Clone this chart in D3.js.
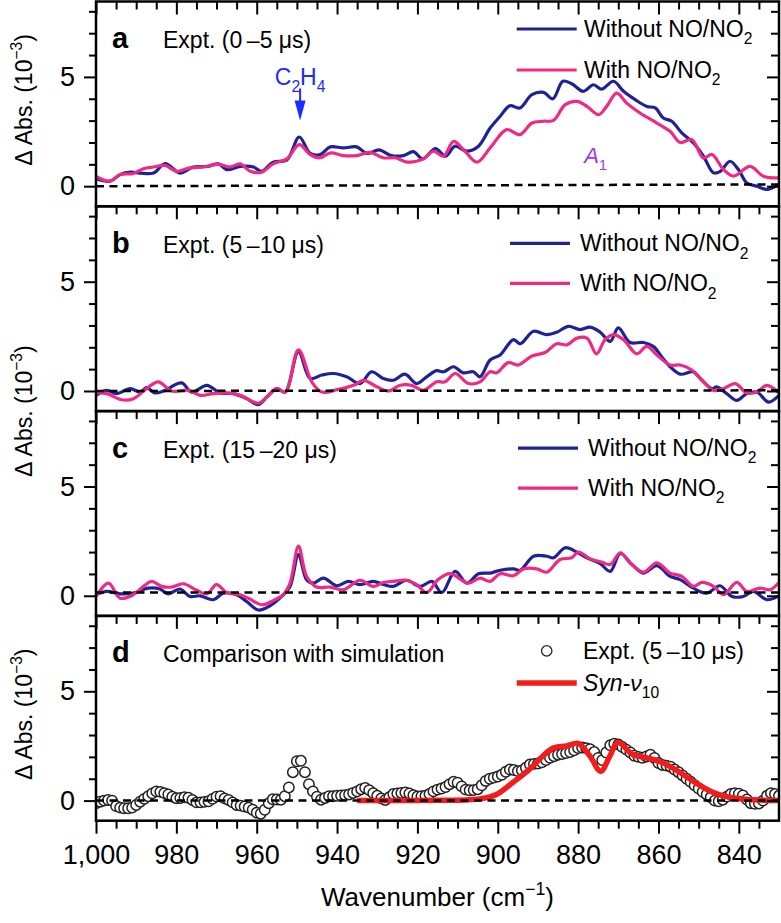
<!DOCTYPE html>
<html><head><meta charset="utf-8">
<script src="https://cdn.jsdelivr.net/npm/d3@7"></script>
<style>
body{margin:0;background:#fff}
svg{display:block}
text{font-family:"Liberation Sans",Arial,Helvetica,sans-serif;fill:#000}
</style>
</head><body>
<svg id="chart" width="781" height="923"></svg>
<script>
// ---------------- DATA ----------------
const panelLetters = ["a","b","c","d"];
const panelTitles = ["Expt. (0\u2009\u20135 \u03bcs)","Expt. (5\u2009\u201310 \u03bcs)","Expt. (15\u2009\u201320 \u03bcs)","Comparison with simulation"];
const xMajorTicks = [1000,980,960,940,920,900,880,860,840];
const xMinorTicks = [995,990,985,975,970,965,955,950,945,935,930,925,915,910,905,895,890,885,875,870,865,855,850,845,835];
const yMajorTicks = [0,5];
const yMinorTicks = [1,2,3,4,6,7,8];
const baselineStart = [0,0,0.15,0];
const baselineEnd = [0.08,0.03,0.15,0];

// Panel a
const aWithoutWn = [1000,996.5,994,991.5,989,985.7,982.8,979.1,975.8,972.4,969.5,967.5,964.1,960.8,958.8,955.9,952.5,949.4,946.7,944.2,941.7,938.4,935.1,932.6,929.5,926.5,923.5,921,918.7,915.5,913,910.6,907.7,904.8,901.9,899.4,897,894.5,891.5,888.6,886.3,883.8,881.6,878.7,876.2,874.1,871.2,868.7,865.8,862.9,860.8,858.8,856.7,854.2,851.3,848.8,846.3,844.6,842.2,840.1,838,835.5,833,830];
const aWithoutVal = [0.35,0.23,0.53,0.64,0.6,0.6,1.03,0.6,0.88,0.9,1.02,0.76,0.9,0.88,0.68,1.1,1.2,2.25,1.5,1.45,1.8,1.75,1.8,1.5,1.66,1.4,1.4,1.58,1.25,1.72,1.37,1.83,1.6,1.83,2.66,3.2,3.68,3.58,4.19,4.29,4.0,4.8,4.69,4.34,4.64,4.44,4.8,4.34,3.96,3.65,3.58,3.12,2.97,2.44,1.98,1.37,0.61,0.68,1.14,0.76,0.15,0,-0.15,0.08];
const aWithWn = [1000,996.5,994,990.7,988.2,985.7,982.8,979.9,976.6,973.3,969.5,966.6,964.1,961.6,958.8,955.9,952.5,949.4,946.7,944.2,941.7,938.4,935.1,931.8,928.5,925.5,922.5,918.5,916,913.5,911,908.5,905.2,901.9,897.8,894.5,891.5,888.6,886.1,883.2,880.3,877.8,874.9,872.9,870.4,867.9,864.6,860.4,857.1,854.6,851.7,848.8,846.7,843.8,841.3,837.2,833.9,830];
const aWithVal = [0.45,0.23,0.53,0.58,0.8,0.88,0.95,0.68,0.84,0.88,1.0,0.88,1.02,0.68,0.64,1.02,1.25,1.9,1.45,1.3,1.52,1.4,1.4,1.55,1.3,1.3,1.1,1.25,1.6,1.37,2.05,1.67,1.1,1.75,2.59,2.36,2.89,2.97,3.01,3.73,3.88,3.65,3.27,3.65,4.26,3.8,3.35,2.89,2.51,2.0,2.13,1.29,1.45,0.76,0.46,0.91,0.46,0.38];

// Panel b
const bWithoutWn = [1000,997.3,994.9,991.5,989,987.4,985.3,983.2,978.7,976.2,972.4,969.1,965.8,962.5,959.6,957.5,955,952.9,949.6,946.7,943.8,940.9,937.6,934.3,931.4,928.5,926,923.1,920.2,917.7,915.2,913.5,911,908.6,906.1,904.4,901.9,899.4,896.1,894.4,891.1,887.8,885.3,882.4,879.5,877,874.5,872,870,867.1,863.7,861.3,859.2,857.1,854.6,851.3,849.6,846.7,845.5,843,840.5,838,835.5,832.6,830];
const bWithoutVal = [-0.2,0.03,-0.12,0.11,-0.05,0.15,-0.09,0,0.37,-0.05,0.26,-0.09,-0.12,-0.35,-0.62,-0.28,0.11,-0.05,1.8,0.57,0.73,0.8,0.65,0.34,0.88,0.57,0.49,0.77,0.34,0.65,0.93,0.88,1.11,0.83,0.88,0.65,1.42,1.65,2.35,2.16,2.73,2.58,2.69,2.96,2.81,2.92,2.69,2.27,2.89,2.22,2.22,2.04,1.57,1.11,0.77,0.88,0.57,0.11,0.19,-0.12,-0.43,-0.12,-0.05,-0.51,-0.2];
const bWithWn = [1000,997.3,993.6,990.7,987.4,984.5,981.2,977,974.1,970.8,967.5,964.1,959.6,957.5,955,952.9,949.6,946.3,943.8,940,935.9,933.4,930.1,927.2,924.3,921.4,918.5,915.2,913.1,910.6,907.3,904.4,901.9,900.3,897.4,894.9,891.5,888.2,885.3,882.8,880.3,877.8,875.4,873.3,871.2,868.7,865.4,862.9,860.4,857.1,854.6,851.7,849.2,846.3,843.8,840.9,838,835.5,833,830];
const bWithVal = [-0.09,-0.12,-0.4,-0.35,0.11,0.42,0,0.03,-0.2,-0.12,-0.09,-0.2,-0.56,-0.28,0.11,-0.05,1.88,0.42,-0.05,0.06,0.26,0.49,0.19,0.0,0.26,0.26,0.03,0.42,0.42,0.8,0.34,0.42,0.88,0.83,1.3,1.19,1.6,1.76,2.16,2.11,2.42,2.42,1.7,2.35,2.58,2.35,1.7,2.04,1.65,1.19,1.19,0.96,0.49,0.03,0.11,0.34,-0.09,-0.05,0.26,-0.09];

// Panel c
const cWithoutWn = [1000,997.3,994,990.7,987,984.1,982,979.1,976.6,974.1,970.8,968.3,965,962.5,959.6,956.7,953.8,951.7,949.6,947.6,945.9,943.4,940.1,937.2,934.3,931,928.5,926,922.7,919.3,916.4,913.9,910.6,907.7,904.8,901.9,899.4,896.1,894.4,891.1,887.8,886.1,883.2,880.3,877.8,874.5,872,869.5,866.6,863.7,860.4,857.1,854.6,851.3,848,844.7,841.7,838.9,836.4,833,830];
const cWithoutVal = [0.05,0.2,0.09,0.12,0.35,0.31,0.09,0.31,-0.03,0,-0.18,0.12,0.05,-0.26,-0.65,-0.46,-0.03,0.43,1.89,0.74,0.58,0.81,0.46,0.66,0.51,0.66,0.52,0.43,0.71,0.43,0.66,0.15,1.12,0.58,1.01,1.04,1.17,1.23,1.17,1.81,1.81,1.74,2.2,2.0,1.74,1.47,1.12,1.94,1.43,1.04,1.38,0.89,0.74,0.35,0.12,0.46,-0.03,-0.03,0.2,-0.18,0];
const cWithWn = [1000,996.9,994,990.7,988.2,986.1,983.7,981.2,978.3,974.9,972.4,970,967.5,964.1,961.7,958.8,955.9,953.4,951.7,949.6,947.6,945.1,941.7,938.4,934.3,931,928.5,926,922.7,920.2,917.7,914.8,911.9,907.3,904.4,901.9,899.4,896.1,893.6,890.3,887.8,884.5,881.6,879.9,877,874.1,872,869.5,867.1,863.7,860.4,857.1,854.2,851.3,849.2,846.3,843.8,840.5,838,834.7,832.2,830];
const cWithVal = [-0.03,0.58,-0.11,0.05,0.43,0.66,0.43,0.4,0.55,0.25,0.09,0.51,0.15,0.05,-0.15,-0.41,-0.22,0.05,0.58,2.27,0.89,0.4,0.4,0.28,0.71,0.43,0.61,0.66,0.71,0.51,0.15,0.75,1.01,0.58,0.81,0.66,1.01,0.92,1.23,1.23,1.08,1.66,1.74,2.0,1.69,1.54,1.43,1.97,1.51,1.08,1.51,1.04,0.89,0.43,0.61,0.43,0.05,0.61,0.2,0.35,0.28,0.61];

// Panel d: experiment (5-10 us), one value per cm-1 from 1000 down to 830
const dExptWn = d3.range(1000, 829.5, -1);
const dExptVal = [
 -0.12,-0.05,0.0,0.03,0.0,-0.25,-0.32,-0.35,-0.35,-0.32,
 -0.2,-0.05,0.08,0.2,0.33,0.42,0.4,0.34,0.28,0.18,
 0.11,0.12,0.15,0.13,0.03,-0.08,-0.08,-0.06,-0.03,0.08,
 0.18,0.2,0.1,0.03,-0.08,-0.2,-0.23,-0.27,-0.32,-0.42,
 -0.55,-0.6,-0.42,-0.12,0.06,0.05,0.04,0.2,0.6,1.3,
 1.8,1.82,1.3,0.75,0.42,0.18,0.04,0.12,0.2,0.2,
 0.22,0.23,0.25,0.28,0.35,0.42,0.52,0.58,0.48,0.34,
 0.22,0.1,0.03,0.15,0.3,0.33,0.35,0.37,0.33,0.25,
 0.19,0.2,0.22,0.3,0.42,0.5,0.55,0.62,0.75,0.86,
 0.82,0.65,0.5,0.47,0.48,0.52,0.7,0.9,1.0,1.05,
 1.1,1.18,1.32,1.42,1.4,1.35,1.38,1.5,1.65,1.68,
 1.7,1.75,1.85,1.96,2.03,2.1,2.13,2.17,2.22,2.3,
 2.4,2.43,2.4,2.35,2.22,1.95,1.85,2.2,2.53,2.6,
 2.57,2.45,2.33,2.2,2.05,2.0,1.96,2.02,2.1,1.95,
 1.72,1.63,1.6,1.55,1.42,1.3,1.15,1.0,0.86,0.7,
 0.55,0.4,0.28,0.15,0.0,-0.03,0.04,0.18,0.3,0.34,
 0.32,0.24,0.05,-0.12,-0.15,-0.13,0.0,0.22,0.34,0.3,
 0.22];
const dSynWn = [935,925,915,908,904.4,900.3,896.1,892,888.7,886.2,882.9,880,877.1,874.4,872.2,870.1,866.4,863.1,858.9,854.8,850.6,846.5,842.4,838.2,834,830];
const dSynVal = [0,0,0.01,0.03,0.08,0.28,0.85,1.45,2.05,2.4,2.5,2.62,2.05,1.34,2.0,2.66,2.11,1.96,1.73,1.3,0.8,0.38,0.15,0.06,0.02,0];

// annotation anchors (data coordinates)
const c2h4Wn = 949.2;
const a1Wn = 878.5, a1Val = 1.08;

// ---------------- LAYOUT / STYLE ----------------
const colWithout = "#1e2296", colWith = "#ee2a82", colSyn = "#f21c1c";
const plotL = 96, plotR = 779, top0 = 1.5, panelH = 204.8;
const yDomain = [-0.92, 8.45];
const svg = d3.select("#chart");
const x = d3.scaleLinear().domain([1000, 830]).range([plotL, plotR]);
const fontTick = 27, fontText = 23;

function rich(sel, parts, size){
  let shift = 0;
  parts.forEach(p => {
    const ts = sel.append("tspan").text(p.t);
    const target = p.s === "sub" ? size*0.32 : p.s === "sup" ? -size*0.42 : 0;
    ts.attr("dy", target - shift); shift = target;
    if (p.s) ts.attr("font-size", size*0.68);
    if (p.i) ts.attr("font-style", "italic");
  });
  return sel;
}
function styleAxis(g){
  g.select(".domain").remove();
  g.selectAll(".tick line").attr("stroke","#000").attr("stroke-width",2);
  g.selectAll(".tick text").attr("font-size",fontTick).attr("fill","#000")
    .attr("font-family",'"Liberation Sans",Arial,sans-serif');
}

const seriesSets = [
  [aWithoutWn,aWithoutVal,aWithWn,aWithVal],
  [bWithoutWn,bWithoutVal,bWithWn,bWithVal],
  [cWithoutWn,cWithoutVal,cWithWn,cWithVal]
];
const legendCfg = [
  {x1:516.7,x2:576.7,dy1:27.5,dy2:68.5,tx:584},
  {x1:510,x2:570,dy1:37,dy2:77,tx:580},
  {x1:518,x2:578,dy1:37,dy2:77,tx:588},
  {x1:516.7,x2:576.7,dy1:35,dy2:67,tx:583}
];

panelLetters.forEach((letter, i) => {
  const t = top0 + i*panelH, b = t + panelH;
  const y = d3.scaleLinear().domain(yDomain).range([b, t]);
  const g = svg.append("g");
  const clipId = "clip"+i;
  svg.append("clipPath").attr("id",clipId).append("rect")
    .attr("x",plotL).attr("y",t).attr("width",plotR-plotL).attr("height",panelH);
  const data = g.append("g").attr("clip-path",`url(#${clipId})`);
  const line = d3.line().x(d=>x(d[0])).y(d=>y(d[1])).curve(d3.curveCatmullRom.alpha(0.5));

  if (i < 3) {
    const [wn1,v1,wn2,v2] = seriesSets[i];
    data.append("path").datum(d3.zip(wn1,v1)).attr("d",line)
      .attr("fill","none").attr("stroke",colWithout).attr("stroke-width",3.2).attr("stroke-linejoin","round");
    data.append("path").datum(d3.zip(wn2,v2)).attr("d",line)
      .attr("fill","none").attr("stroke",colWith).attr("stroke-width",3.2).attr("stroke-linejoin","round");
  } else {
    data.selectAll("circle.expt").data(d3.zip(dExptWn,dExptVal)).join("circle")
      .attr("class","expt").attr("cx",d=>x(d[0])).attr("cy",d=>y(d[1])).attr("r",5.2)
      .attr("fill","#fff").attr("stroke","#222").attr("stroke-width",1.5);
    data.append("path").datum(d3.zip(dSynWn,dSynVal)).attr("d",line)
      .attr("fill","none").attr("stroke",colSyn).attr("stroke-width",5.5).attr("stroke-linejoin","round");
  }
  // dashed baseline
  data.append("line").attr("x1",x(1000)).attr("x2",x(830))
    .attr("y1",y(baselineStart[i])).attr("y2",y(baselineEnd[i]))
    .attr("stroke","#000").attr("stroke-width",2.5).attr("stroke-dasharray","8,5.5");

  // frame
  g.append("rect").attr("x",plotL).attr("y",t).attr("width",plotR-plotL).attr("height",panelH)
    .attr("fill","none").attr("stroke","#000").attr("stroke-width",2.5);

  // y axes
  g.append("g").attr("transform",`translate(${plotL},0)`)
    .call(d3.axisLeft(y).tickValues(yMajorTicks).tickSize(12).tickPadding(9).tickFormat(d3.format("d"))).call(styleAxis);
  g.append("g").attr("transform",`translate(${plotL},0)`)
    .call(d3.axisLeft(y).tickValues(yMinorTicks).tickSize(7).tickFormat("")).call(styleAxis);
  g.append("g").attr("transform",`translate(${plotR},0)`)
    .call(d3.axisLeft(y).tickValues(yMajorTicks).tickSize(12).tickFormat("")).call(styleAxis);
  g.append("g").attr("transform",`translate(${plotR},0)`)
    .call(d3.axisLeft(y).tickValues(yMinorTicks).tickSize(8).tickFormat("")).call(styleAxis);
  // top x ticks (inward)
  g.append("g").attr("transform",`translate(0,${t})`)
    .call(d3.axisBottom(x).tickValues(xMajorTicks).tickSize(13).tickFormat("")).call(styleAxis);
  g.append("g").attr("transform",`translate(0,${t})`)
    .call(d3.axisBottom(x).tickValues(xMinorTicks).tickSize(8).tickFormat("")).call(styleAxis);
  if (i === 3) {
    g.append("g").attr("transform",`translate(0,${b})`)
      .call(d3.axisBottom(x).tickValues(xMajorTicks).tickSize(13).tickPadding(11).tickFormat(d3.format(","))).call(styleAxis);
    g.append("g").attr("transform",`translate(0,${b})`)
      .call(d3.axisBottom(x).tickValues(xMinorTicks).tickSize(8).tickFormat("")).call(styleAxis);
  }

  // panel letter & title
  g.append("text").attr("x",112).attr("y",t+46.5).attr("font-size",29).attr("font-weight","bold").text(letter);
  g.append("text").attr("x",163).attr("y",t+46.5).attr("font-size",fontText).text(panelTitles[i]);

  // legend
  const L = legendCfg[i];
  if (i < 3) {
    g.append("line").attr("x1",L.x1).attr("x2",L.x2).attr("y1",t+L.dy1).attr("y2",t+L.dy1)
      .attr("stroke",colWithout).attr("stroke-width",3.2);
    rich(g.append("text").attr("x",L.tx).attr("y",t+L.dy1+8).attr("font-size",fontText),
      [{t:"Without NO/NO"},{t:"2",s:"sub"}], fontText);
    g.append("line").attr("x1",L.x1).attr("x2",L.x2).attr("y1",t+L.dy2).attr("y2",t+L.dy2)
      .attr("stroke",colWith).attr("stroke-width",3.2);
    rich(g.append("text").attr("x",L.tx).attr("y",t+L.dy2+8).attr("font-size",fontText),
      [{t:"With NO/NO"},{t:"2",s:"sub"}], fontText);
  } else {
    g.append("circle").attr("cx",(L.x1+L.x2)/2 - 0).attr("cy",t+L.dy1).attr("r",5.2)
      .attr("fill","#fff").attr("stroke","#222").attr("stroke-width",1.3);
    g.append("text").attr("x",L.tx).attr("y",t+L.dy1+8).attr("font-size",fontText).text("Expt. (5\u2009\u201310 \u03bcs)");
    g.append("line").attr("x1",L.x1).attr("x2",L.x2).attr("y1",t+L.dy2).attr("y2",t+L.dy2)
      .attr("stroke",colSyn).attr("stroke-width",5.5);
    rich(g.append("text").attr("x",L.tx).attr("y",t+L.dy2+8).attr("font-size",fontText),
      [{t:"Syn",i:true},{t:"-"},{t:"\u03bd",i:true},{t:"10",s:"sub"}], fontText);
  }

  // annotations for panel a
  if (i === 0) {
    const ax = x(c2h4Wn);
    rich(g.append("text").attr("x",ax).attr("y",t+83.5).attr("font-size",23).attr("text-anchor","middle").style("fill","#1f2cff"),
      [{t:"C"},{t:"2",s:"sub"},{t:"H"},{t:"4",s:"sub"}], 23).selectAll("tspan").style("fill","#1f2cff");
    g.append("line").attr("x1",ax).attr("x2",ax).attr("y1",t+87).attr("y2",t+104)
      .attr("stroke","#1f2cff").attr("stroke-width",2);
    g.append("path").attr("d",`M${ax-5.5},${t+99}L${ax+5.5},${t+99}L${ax},${t+119}Z`).attr("fill","#1f2cff");
    rich(g.append("text").attr("x",x(a1Wn)).attr("y",y(a1Val)).attr("font-size",22).style("fill","#9b3ae8"),
      [{t:"A",i:true},{t:"1",s:"sub"}], 22).selectAll("tspan").style("fill","#9b3ae8");
  }
});

// y-axis titles
const yTitleCenters = [top0 + panelH/2 - 4, top0 + 2*panelH, top0 + 3.5*panelH - 4];
yTitleCenters.forEach(c => {
  rich(svg.append("text").attr("transform",`translate(32,${c}) rotate(-90)`)
    .attr("text-anchor","middle").attr("font-size",23),
    [{t:"\u0394 Abs. (10"},{t:"\u22123",s:"sup"},{t:")"}], 23);
});
// x-axis title
rich(svg.append("text").attr("x",(plotL+plotR)/2).attr("y",906).attr("text-anchor","middle").attr("font-size",26),
  [{t:"Wavenumber (cm"},{t:"\u22121",s:"sup"},{t:")"}], 26);
</script>
</body></html>
